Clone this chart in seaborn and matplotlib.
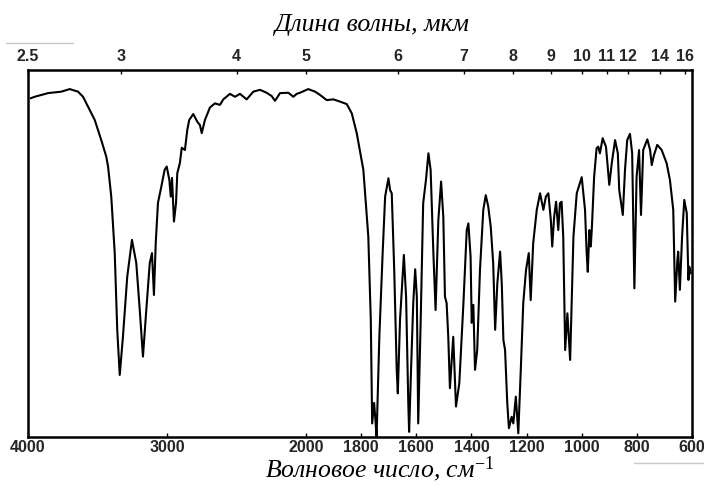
import numpy as np
import pandas as pd
import matplotlib
matplotlib.use("Agg")
import matplotlib.pyplot as plt
from matplotlib.lines import Line2D
import seaborn as sns

# ---- data ----
wavenumber = [
    3981, 3952, 3856, 3760, 3700, 3640, 3604, 3568, 3520, 3473, 3437, 3424, 3401, 3376, 3358,
    3340, 3317, 3286, 3252, 3221, 3196, 3173, 3149, 3124, 3108, 3094, 3081, 3065, 3041, 3017,
    3002, 2983, 2973, 2964, 2950, 2935, 2926, 2907, 2894, 2871, 2854, 2840, 2811, 2782, 2763,
    2750, 2727, 2691, 2655, 2619, 2595, 2547, 2511, 2475, 2427, 2379, 2331, 2283, 2247, 2223,
    2187, 2127, 2091, 2067, 2043, 1992, 1967, 1949, 1925, 1901, 1877, 1852, 1834, 1816, 1792,
    1774, 1765, 1760, 1753, 1749, 1744, 1734, 1722, 1713, 1701, 1695, 1689, 1680, 1671, 1667,
    1659, 1645, 1637, 1629, 1626, 1619, 1611, 1604, 1598, 1593, 1584, 1575, 1565, 1556, 1548,
    1538, 1530, 1520, 1510, 1502, 1496, 1490, 1484, 1478, 1466, 1456, 1444, 1429, 1417, 1411,
    1403, 1399, 1393, 1387, 1379, 1369, 1357, 1348, 1339, 1330, 1321, 1314, 1306, 1296, 1290,
    1284, 1278, 1270, 1264, 1254, 1248, 1239, 1230, 1221, 1212, 1202, 1192, 1185, 1176, 1163,
    1151, 1139, 1130, 1121, 1112, 1107, 1100, 1093, 1085, 1079, 1073, 1067, 1060, 1052, 1042,
    1030, 1018, 1000, 988, 982, 978, 972, 967, 963, 955, 946, 940, 934, 924, 912,
    900, 891, 879, 869, 864, 851, 843, 835, 825, 817, 809, 801, 792, 785, 777,
    762, 752, 746, 738, 726, 710, 692, 680, 668, 661, 653, 650, 644, 636, 628,
    619, 613, 610, 605,
]
transmittance = [
    92.3, 92.7, 93.7, 94.1, 94.8, 94.1, 92.7, 90.0, 86.4, 80.9, 76.4, 73.7, 65.5, 50.1, 29.2,
    16.9, 27.3, 43.7, 53.7, 47.4, 34.6, 21.9, 34.6, 47.4, 50.1, 38.7, 52.9, 63.8, 68.2, 72.8,
    73.7, 70.0, 65.5, 70.6, 58.7, 63.8, 71.9, 74.7, 78.8, 78.2, 83.7, 86.4, 88.0, 85.9, 85.0,
    82.8, 86.4, 89.8, 90.9, 90.5, 92.0, 93.5, 92.7, 93.5, 92.0, 94.1, 94.6, 93.8, 92.9, 91.6,
    93.7, 93.8, 92.7, 93.5, 93.8, 94.8, 94.1, 93.2, 91.8, 92.0, 91.4, 90.7, 88.2, 82.8, 72.8,
    54.6, 31.9, 3.7, 9.3, 5.5, 0.1, 27.3, 50.1, 65.5, 70.5, 67.3, 66.4, 45.5, 18.3, 11.9,
    31.9, 49.6, 38.2, 9.3, 1.4, 18.3, 36.5, 45.7, 38.2, 3.7, 31.9, 63.7, 70.0, 77.3, 72.8,
    50.1, 34.6, 59.1, 69.6, 60.0, 38.2, 36.5, 27.3, 13.3, 27.3, 8.3, 14.6, 36.5, 56.4, 58.2,
    49.1, 31.1, 36.0, 18.3, 23.7, 45.5, 61.9, 65.9, 62.8, 57.3, 47.3, 29.2, 41.9, 50.5, 41.9,
    26.4, 23.7, 9.2, 2.4, 5.5, 3.7, 11.0, 1.0, 18.3, 36.5, 45.5, 50.1, 37.3, 52.8, 61.9,
    66.4, 61.9, 65.5, 66.4, 59.1, 51.9, 60.0, 64.1, 56.4, 63.7, 64.1, 54.6, 23.7, 33.7, 21.0,
    54.6, 66.4, 70.8, 61.9, 50.1, 45.0, 56.4, 51.9, 57.3, 70.9, 78.7, 79.1, 77.3, 81.4, 79.1,
    68.7, 74.6, 80.9, 77.3, 67.3, 60.5, 72.8, 80.9, 82.6, 77.3, 40.5, 70.9, 78.2, 60.5, 78.2,
    81.1, 78.2, 74.1, 76.8, 79.6, 78.2, 74.6, 70.0, 61.9, 36.9, 48.2, 50.5, 40.1, 54.6, 64.6,
    61.0, 42.8, 46.4, 44.6,
]
wn_ticks = [4000, 3000, 2000, 1800, 1600, 1400, 1200, 1000, 800, 600]
um_ticks = [2.5, 3, 4, 5, 6, 7, 8, 9, 10, 11, 12, 14, 16]

df = pd.DataFrame({"wavenumber": wavenumber, "transmittance": transmittance})

# piecewise (grating-change) wavenumber axis: 4000-2000 compressed 2x
def fwd(w):
    w = np.asarray(w, dtype=float)
    return np.where(w >= 2000, 386 + (w - 2000) * 278 / 2000, (w - 600) * 386 / 1400)

def inv(u):
    u = np.asarray(u, dtype=float)
    return np.where(u >= 386, 2000 + (u - 386) * 2000 / 278, 600 + u * 1400 / 386)

sns.set_theme(style="white")
plt.rcParams["font.family"] = ["Liberation Sans", "DejaVu Sans"]
plt.rcParams["mathtext.fontset"] = "custom"
plt.rcParams["mathtext.rm"] = "Liberation Serif"
plt.rcParams["mathtext.it"] = "Liberation Serif:italic"

fig = plt.figure(figsize=(7.04, 4.86), dpi=100)
ax = fig.add_axes([28 / 704, 1 - 437 / 486, (692 - 28) / 704, (437 - 70) / 486])

sns.lineplot(data=df, x="wavenumber", y="transmittance", sort=False, estimator=None,
             color="black", linewidth=1.5, ax=ax)
ax.set_xscale("function", functions=(fwd, inv))
ax.set_xlim(4000, 600)
ax.set_ylim(0, 100)
ax.set_xlabel("")
ax.set_ylabel("")
ax.set_yticks([])
ax.set_xticks(wn_ticks)
ax.set_xticklabels([str(t) for t in wn_ticks])
ax.xaxis.set_minor_locator(matplotlib.ticker.NullLocator())
ax.tick_params(axis="x", direction="in", length=3, width=1, color="black",
               labelsize=11.5, pad=2, bottom=True)
for lab in ax.get_xticklabels():
    lab.set_fontweight("bold")
for s in ax.spines.values():
    s.set_color("black")
    s.set_linewidth(1.8)

top = ax.twiny()
top.set_xscale("function", functions=(fwd, inv))
top.set_xlim(4000, 600)
top.set_xticks([10000 / u for u in um_ticks])
top.set_xticklabels([("%g" % u) for u in um_ticks])
top.xaxis.set_minor_locator(matplotlib.ticker.NullLocator())
top.tick_params(axis="x", direction="in", length=3, width=1, color="black",
                labelsize=11.5, pad=4, top=True)
for lab in top.get_xticklabels():
    lab.set_fontweight("bold")
for s in top.spines.values():
    s.set_visible(False)

fig.text(371 / 704, 1 - 31 / 486, "Длина волны, мкм", ha="center", va="baseline",
         family=["Liberation Serif", "DejaVu Serif"], style="italic", fontsize=18.5, color="black")
fig.text(380 / 704, 1 - 477 / 486, r"Волновое число, см$^{\mathit{-1}}$", ha="center", va="baseline",
         family=["Liberation Serif", "DejaVu Serif"], style="italic", fontsize=18.5, color="black")

# faint scan lines in the reference
fig.add_artist(Line2D([6 / 704, 73 / 704], [1 - 43 / 486, 1 - 43 / 486], color="#c8c8c8", lw=1))
fig.add_artist(Line2D([634 / 704, 704 / 704], [1 - 463 / 486, 1 - 463 / 486], color="#c8c8c8", lw=1))

fig.savefig("out.png", dpi=100)
